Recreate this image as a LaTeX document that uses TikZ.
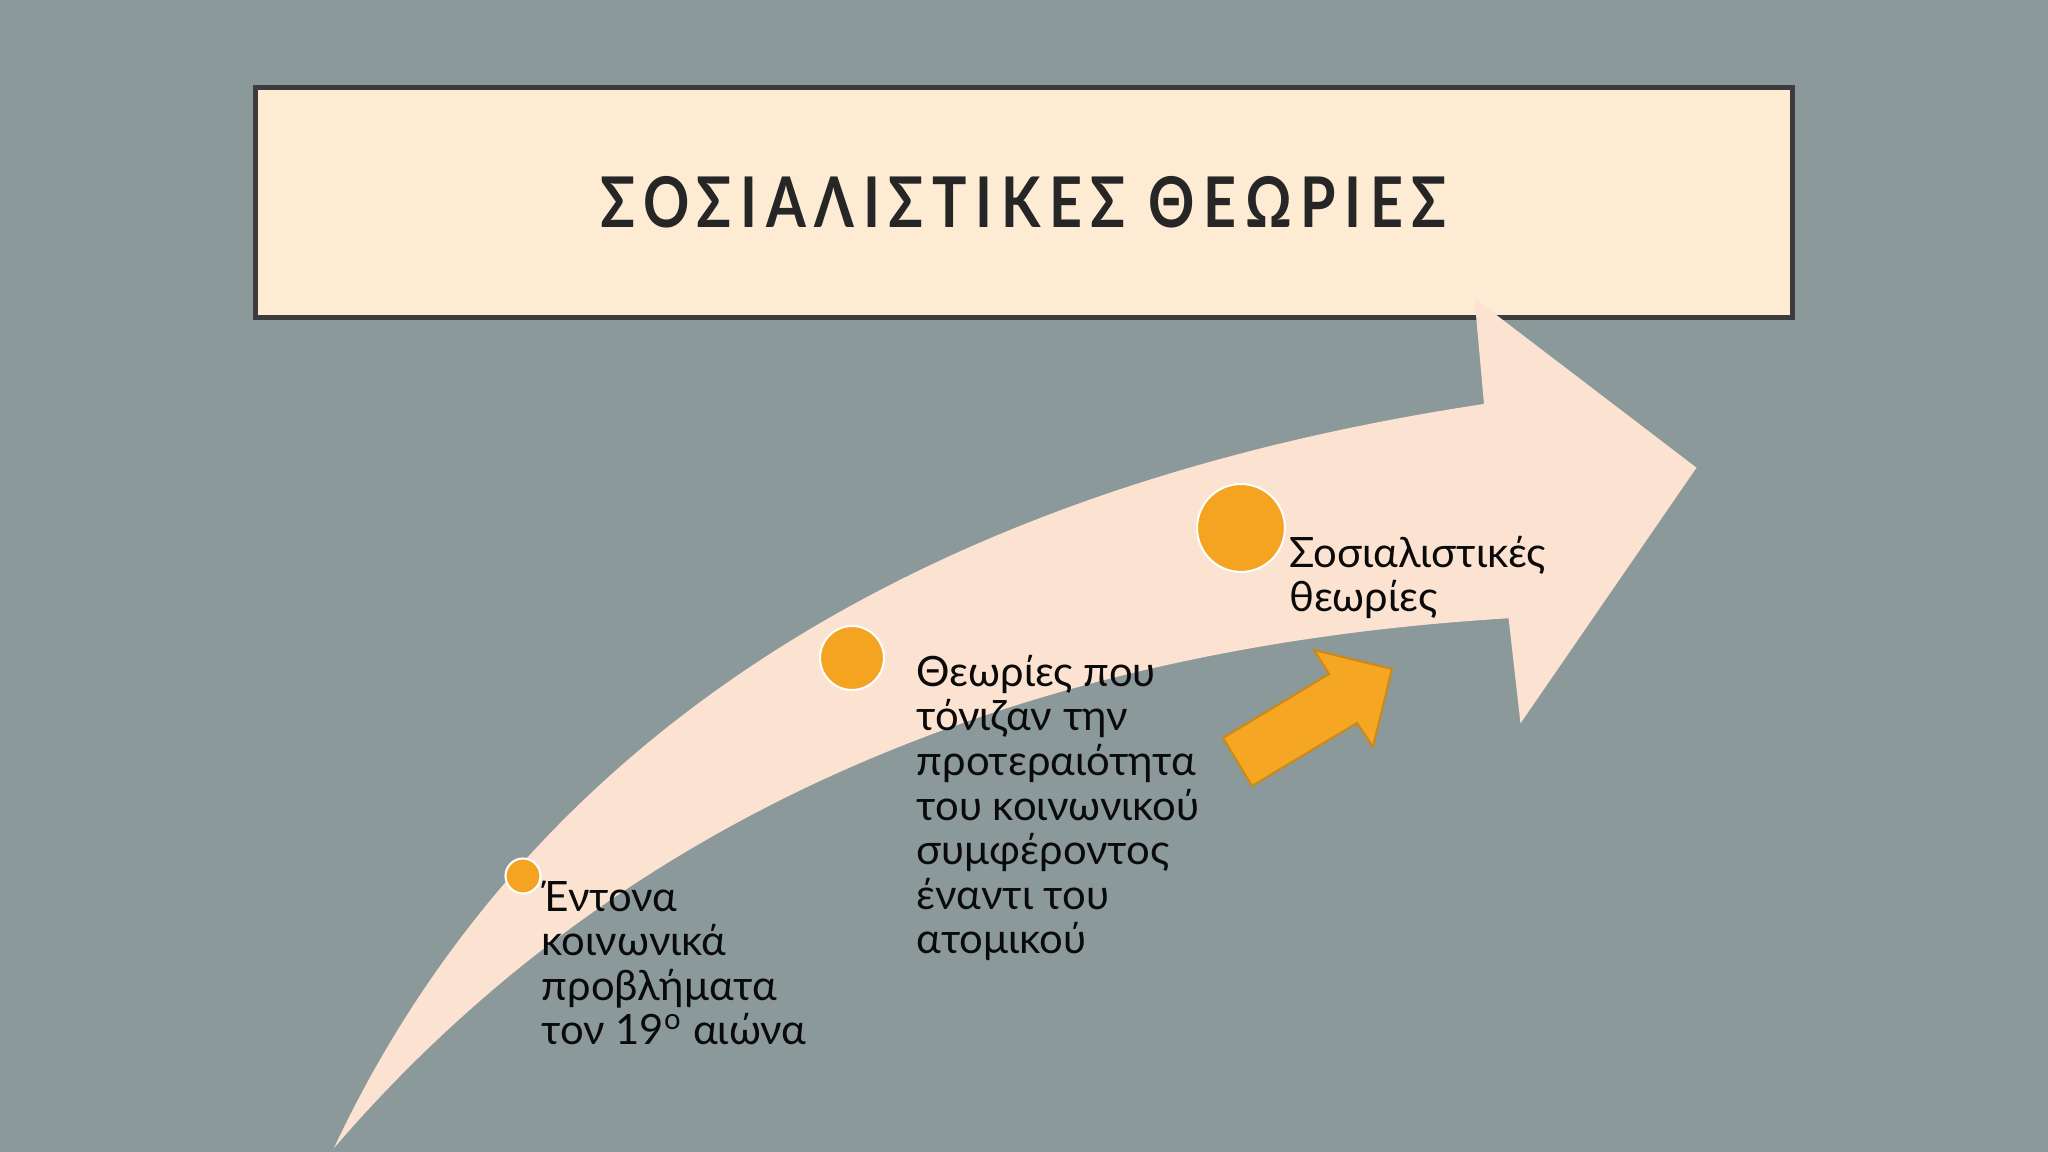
\documentclass[tikz,border=0pt]{standalone}
\usepackage{fontspec}
\setmainfont{Lato}
\usepackage{graphicx}

\definecolor{slidebg}{HTML}{8C999B}
\definecolor{titlefill}{HTML}{FDECD3}
\definecolor{titleline}{HTML}{3C3C3C}
\definecolor{titleink}{HTML}{262626}
\definecolor{arrowfill}{HTML}{FBE2D1}
\definecolor{dotfill}{HTML}{F4A421}
\definecolor{smallarrow}{HTML}{F5A623}
\definecolor{smallarrowline}{HTML}{C98A1C}
\definecolor{inktext}{HTML}{0A0A0A}

\begin{document}
\begin{tikzpicture}[
    dot/.style={circle,fill=dotfill,draw=white,line width=0.6pt,inner sep=0pt},
    lbl/.style={anchor=base west,align=left,inner sep=0pt,text=inktext,
        font=\fontsize{11.9}{12.7}\selectfont}
    ]
    %% Background
    \useasboundingbox (0,0) rectangle (20.48,11.52);
    \fill[slidebg] (0,0) rectangle (20.48,11.52);
    %% Title
    \node[draw=titleline,fill=titlefill,line width=0.05cm,inner sep=0pt,
        minimum width=15.37cm,minimum height=2.30cm] (title) at (10.235,9.495)
        {\fontsize{19.9}{20}\selectfont\bfseries\addfontfeature{LetterSpace=15}%
         \color{titleink}\scalebox{0.82}[1]{ΣΟΣΙΑΛΙΣΤΙΚΕΣ ΘΕΩΡΙΕΣ}};
    %% Big arrow
    \fill[arrowfill] (3.34,0.04) .. controls (5.2,4.0) and (9.0,6.6) .. (14.84,7.48)
        -- (14.745,8.537) -- (16.965,6.843) -- (15.205,4.287) -- (15.086,5.337)
        .. controls (9.5,5.0) and (5.8,2.9) .. cycle;
    %% Dots
    \node[dot,minimum size=0.35cm] (dot1) at (5.23,2.76) {};
    \node[dot,minimum size=0.64cm] (dot2) at (8.52,4.94) {};
    \node[dot,minimum size=0.88cm] (dot3) at (12.41,6.24) {};
    %% Labels (placed by the baseline of their last line)
    \node[lbl] (txt1) at (5.41,1.07)
        {Έντονα\\κοινωνικά\\προβλήματα\\τον 19\textsuperscript{ο} αιώνα};
    \node[lbl] (txt2) at (9.16,1.98)
        {Θεωρίες που\\τόνιζαν την\\προτεραιότητα\\του κοινωνικού\\συμφέροντος\\έναντι του\\ατομικού};
    \node[lbl] (txt3) at (12.885,5.40)
        {Σοσιαλιστικές\\θεωρίες};
    %% Small arrow
    \draw[fill=smallarrow,draw=smallarrowline,line width=0.6pt]
        (12.23,4.14) -- (13.29,4.78) -- (13.14,5.02) -- (13.92,4.83)
        -- (13.73,4.05) -- (13.57,4.29) -- (12.52,3.66) -- cycle;
\end{tikzpicture}
\end{document}
